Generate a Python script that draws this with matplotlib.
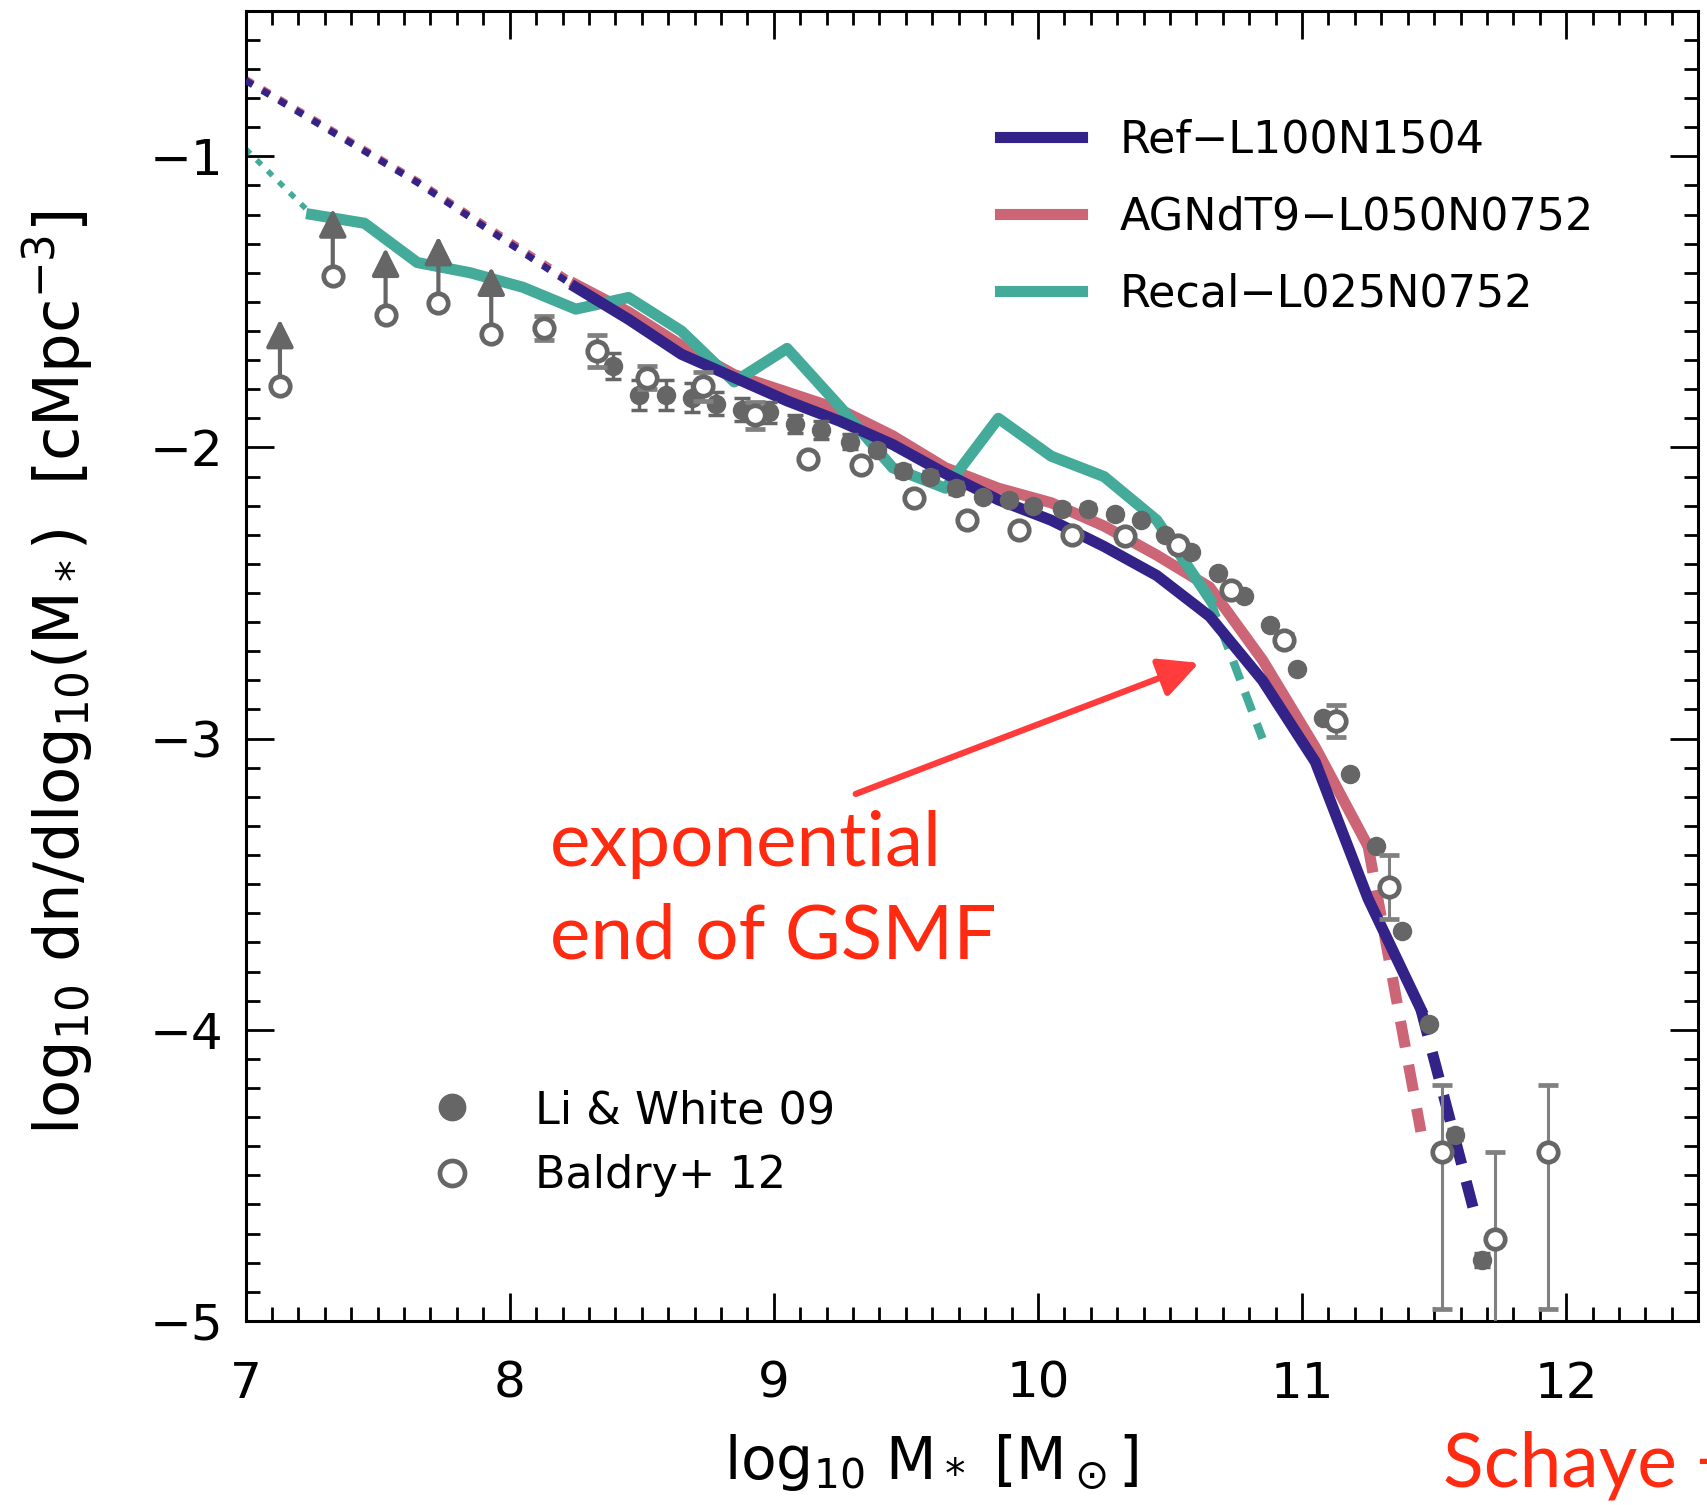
import matplotlib
matplotlib.use("Agg")
from matplotlib import pyplot as plt
from matplotlib.lines import Line2D
from matplotlib.ticker import MultipleLocator

# EAGLE simulations, z~0.1 GSMF
ref_x = [8.25, 8.45, 8.65, 8.85, 9.05, 9.25, 9.45, 9.65, 9.85, 10.05,
         10.25, 10.45, 10.65, 10.85, 11.05, 11.25, 11.45]
ref_y = [-1.45, -1.56, -1.68, -1.76, -1.84, -1.91, -1.99, -2.09, -2.18, -2.25,
         -2.34, -2.44, -2.58, -2.80, -3.08, -3.55, -3.93]
ref_lo_x = [7.0, 7.65, 8.25]
ref_lo_y = [-0.74, -1.09, -1.45]
ref_hi_x = [11.45, 11.65]
ref_hi_y = [-3.93, -4.62]

agn_x = [8.25, 8.45, 8.65, 8.85, 9.05, 9.25, 9.45, 9.65, 9.85, 10.05,
         10.25, 10.45, 10.65, 10.85, 11.05, 11.25]
agn_y = [-1.44, -1.535, -1.65, -1.75, -1.81, -1.87, -1.96, -2.07, -2.14, -2.19,
         -2.27, -2.37, -2.48, -2.73, -3.03, -3.37]
agn_lo_x = [7.0, 7.65, 8.25]
agn_lo_y = [-0.735, -1.085, -1.44]
agn_hi_x = [11.25, 11.45]
agn_hi_y = [-3.37, -4.35]

rec_x = [7.25, 7.45, 7.65, 7.85, 8.05, 8.25, 8.45, 8.65, 8.85, 9.05,
         9.25, 9.45, 9.65, 9.85, 10.05, 10.25, 10.45, 10.65]
rec_y = [-1.20, -1.23, -1.365, -1.40, -1.45, -1.525, -1.485, -1.60, -1.775, -1.66,
         -1.86, -2.07, -2.14, -1.90, -2.03, -2.10, -2.25, -2.52]
rec_lo_x = [7.0, 7.25]
rec_lo_y = [-0.975, -1.20]
rec_hi_x = [10.65, 10.85]
rec_hi_y = [-2.52, -3.00]

# Li & White 2009
lw09_x = [8.39, 8.49, 8.59, 8.69, 8.78, 8.88, 8.98, 9.08, 9.18, 9.29, 9.39,
          9.49, 9.59, 9.69, 9.79, 9.89, 9.98, 10.09, 10.19, 10.29, 10.39, 10.48,
          10.58, 10.68, 10.78, 10.88, 10.98, 11.08, 11.18, 11.28, 11.38, 11.48,
          11.58, 11.68]
lw09_y = [-1.72, -1.82, -1.82, -1.83, -1.85, -1.87, -1.88, -1.92, -1.94, -1.98, -2.01,
          -2.08, -2.10, -2.14, -2.17, -2.18, -2.20, -2.21, -2.21, -2.23, -2.25, -2.30,
          -2.36, -2.43, -2.51, -2.61, -2.76, -2.93, -3.12, -3.37, -3.66, -3.98,
          -4.36, -4.79]
lw09_err = [0.045, 0.05, 0.05, 0.05, 0.04, 0.04, 0.035, 0.03, 0.03, 0.025, 0.02,
            0.02, 0.02, 0.02, 0.015, 0.015, 0.015, 0.015, 0.015, 0.015, 0.01, 0.01,
            0.01, 0.01, 0.01, 0.01, 0.01, 0.01, 0.01, 0.01, 0.01, 0.015,
            0.02, 0.025]

# Baldry et al. 2012
bal_lim_x = [7.13, 7.33, 7.53, 7.73, 7.93]
bal_lim_y = [-1.79, -1.41, -1.545, -1.505, -1.61]
bal_x = [8.13, 8.33, 8.52, 8.73, 8.93, 9.13, 9.33, 9.53, 9.73, 9.93, 10.13,
         10.33, 10.53, 10.73, 10.93, 11.13, 11.33, 11.53, 11.73, 11.93]
bal_y = [-1.59, -1.67, -1.76, -1.79, -1.89, -2.04, -2.06, -2.175, -2.25, -2.285, -2.30,
         -2.305, -2.335, -2.49, -2.66, -2.94, -3.51, -4.42, -4.72, -4.42]
bal_err_lo = [0.04, 0.055, 0.04, 0.05, 0.045, 0, 0, 0, 0, 0, 0,
              0, 0, 0, 0.02, 0.055, 0.11, 0.54, 0.6, 0.54]
bal_err_hi = [0.04, 0.055, 0.04, 0.05, 0.045, 0, 0, 0, 0, 0, 0,
              0, 0, 0, 0.02, 0.055, 0.11, 0.23, 0.30, 0.23]

INDIGO = "#332288"
ROSE = "#CC6677"
TEAL = "#44AA99"
GREY = "#666666"
RED = "#ff2a10"

fig = plt.figure(figsize=(17.08, 15.05), dpi=100)
ax = fig.add_axes([0.1438, 0.1223, 0.8505, 0.8706])

dots = (0, (1.2, 1.6))
dash = (0, (2.4, 1.6))

ax.plot(agn_lo_x, agn_lo_y, color=ROSE, lw=5, ls=dots, zorder=2)
ax.plot(ref_lo_x, ref_lo_y, color=INDIGO, lw=5, ls=dots, zorder=3)
ax.plot(rec_lo_x, rec_lo_y, color=TEAL, lw=4, ls=dots, zorder=2)

l_agn, = ax.plot(agn_x, agn_y, color=ROSE, lw=8, zorder=2)
l_rec, = ax.plot(rec_x, rec_y, color=TEAL, lw=8, zorder=2.5)
l_ref, = ax.plot(ref_x, ref_y, color=INDIGO, lw=8, zorder=3)

ax.plot(agn_hi_x, agn_hi_y, color=ROSE, lw=8, ls=dash, zorder=2)
ax.plot(ref_hi_x, ref_hi_y, color=INDIGO, lw=8, ls=dash, zorder=3)
ax.plot(rec_hi_x, rec_hi_y, color=TEAL, lw=6, ls=dash, zorder=2)

# lower limits as arrows
for x, y in zip(bal_lim_x, bal_lim_y):
    ax.annotate("", xy=(x, y + 0.23), xytext=(x, y),
                arrowprops=dict(arrowstyle="-|>", color=GREY, lw=3,
                                mutation_scale=42, shrinkA=0, shrinkB=0),
                zorder=4)
ax.plot(bal_lim_x, bal_lim_y, "o", ms=14, mfc="white", mec=GREY, mew=3.4, zorder=6)

ax.errorbar(lw09_x, lw09_y, yerr=lw09_err, fmt="o", ms=13, color=GREY,
            elinewidth=2.5, capsize=6, capthick=2.5, zorder=5)
ax.errorbar(bal_x, bal_y, yerr=[bal_err_lo, bal_err_hi], fmt="o", ms=14,
            mfc="white", mec=GREY, mew=3.4, ecolor="#808080",
            elinewidth=2.2, capsize=7, capthick=2.2, zorder=6)

ax.set_xlim(7, 12.5)
ax.set_ylim(-5, -0.5)
ax.xaxis.set_major_locator(MultipleLocator(1))
ax.xaxis.set_minor_locator(MultipleLocator(0.1))
ax.yaxis.set_major_locator(MultipleLocator(1))
ax.yaxis.set_minor_locator(MultipleLocator(0.1))
ax.tick_params(which="both", direction="in", top=True, right=True, width=2)
ax.tick_params(which="major", length=20, labelsize=36)
ax.tick_params(axis="x", which="major", pad=28)
ax.tick_params(axis="y", which="major", pad=16)
ax.tick_params(which="minor", length=10)
for s in ax.spines.values():
    s.set_linewidth(2.2)

ax.set_xlabel(r"log$_{10}$ M$_*$ [M$_\odot$]", fontsize=42, va="top")
ax.xaxis.set_label_coords(0.472, -0.085)
ax.set_ylabel(r"log$_{10}$ dn/dlog$_{10}$(M$_*$)  [cMpc$^{-3}$]", fontsize=45)
ax.yaxis.set_label_coords(-0.103, 0.495)

leg1 = ax.legend([l_ref, l_agn, l_rec],
                 ["Ref\u2212L100N1504", "AGNdT9\u2212L050N0752", "Recal\u2212L025N0752"],
                 loc="upper left", bbox_to_anchor=(0.519, 0.918), frameon=False,
                 fontsize=32, handlelength=1.85, handletextpad=0.85,
                 labelspacing=0.77, borderpad=0, borderaxespad=0)
ax.add_artist(leg1)
h_lw = Line2D([], [], ls="none", marker="o", ms=19, color=GREY)
h_bal = Line2D([], [], ls="none", marker="o", ms=18, mfc="white", mec=GREY, mew=3.4)
ax.legend([h_lw, h_bal], ["Li & White 09", "Baldry+ 12"], loc="upper left",
          bbox_to_anchor=(0.127, 0.177), frameon=False, fontsize=32,
          handlelength=1.0, handletextpad=1.35, labelspacing=0.50,
          borderpad=0, borderaxespad=0)

# annotation
ax.annotate("", xy=(10.61, -2.74), xytext=(9.31, -3.19),
            arrowprops=dict(arrowstyle="-|>", color="#ff3b3b", lw=4.5,
                            mutation_scale=60, shrinkA=0, shrinkB=0), zorder=7)
ax.text(8.152, -3.438, "exponential", color=RED, fontsize=55, family="Lato",
        va="baseline", ha="left")
ax.text(8.152, -3.755, "end of GSMF", color=RED, fontsize=55, family="Lato",
        va="baseline", ha="left")
fig.text(0.845, 0.0123, "Schaye +", color=RED, fontsize=54, family="Lato",
         va="baseline", ha="left")

fig.savefig("out.png", dpi=100)
